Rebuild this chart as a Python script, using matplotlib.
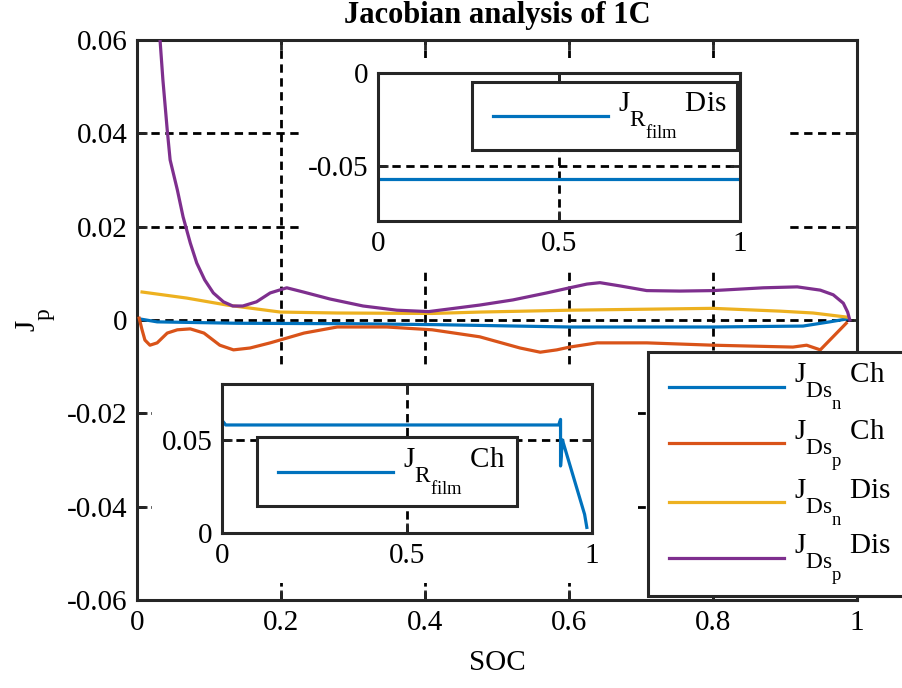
import matplotlib
matplotlib.use('Agg')
import matplotlib.pyplot as plt
import matplotlib._mathtext as mathtext_internal
from matplotlib.patches import Rectangle
from matplotlib.lines import Line2D
from matplotlib.legend_handler import HandlerLine2D

plt.rcParams['font.family'] = 'Liberation Serif'
plt.rcParams['mathtext.fontset'] = 'custom'
plt.rcParams['mathtext.rm'] = 'Liberation Serif'
plt.rcParams['mathtext.it'] = 'Liberation Serif'
plt.rcParams['mathtext.bf'] = 'Liberation Serif:bold'
# MATLAB-like tex subscripts: larger and lower than mathtext default
mathtext_internal.SHRINK_FACTOR = 0.8
mathtext_internal.FontConstantsBase.sub1 = 1.1

# main curves (SOC, Jacobian)
soc_ch_n = [0.005, 0.028, 0.139, 0.3, 0.417, 0.601, 0.8, 0.925, 0.962, 0.985]
jac_ch_n = [0.0002, -0.0004, -0.0007, -0.0008, -0.001, -0.0015, -0.0015, -0.0013, -0.0004, 0.0002]

soc_ch_p = [0.003, 0.007, 0.011, 0.018, 0.028, 0.042, 0.056, 0.074, 0.093, 0.115, 0.134, 0.157,
            0.185, 0.232, 0.278, 0.347, 0.41, 0.476, 0.532, 0.56, 0.583, 0.601, 0.639, 0.708,
            0.8, 0.911, 0.93, 0.949, 0.985]
jac_ch_p = [0.0004, -0.0021, -0.0043, -0.0054, -0.0049, -0.0028, -0.0021, -0.0019, -0.0028,
            -0.0054, -0.0064, -0.0060, -0.0049, -0.0028, -0.0015, -0.0015, -0.0021, -0.0036,
            -0.0060, -0.0069, -0.0064, -0.0058, -0.0049, -0.0049, -0.0054, -0.0058, -0.0054,
            -0.0064, -0.0007]

soc_dis_n = [0.007, 0.069, 0.125, 0.199, 0.278, 0.41, 0.476, 0.601, 0.8, 0.893, 0.939, 0.987]
jac_dis_n = [0.0060, 0.0047, 0.0032, 0.0017, 0.0015, 0.0014, 0.0017, 0.0021, 0.0025, 0.0019,
             0.0015, 0.0006]

soc_dis_p = [0.032, 0.036, 0.042, 0.046, 0.056, 0.064, 0.074, 0.083, 0.094, 0.106, 0.12, 0.133,
             0.147, 0.166, 0.185, 0.208, 0.231, 0.268, 0.314, 0.361, 0.405, 0.476, 0.522, 0.569,
             0.601, 0.625, 0.643, 0.671, 0.708, 0.754, 0.8, 0.87, 0.917, 0.949, 0.967, 0.981,
             0.987, 0.99]
jac_dis_p = [0.0600, 0.0514, 0.0407, 0.0343, 0.0279, 0.0221, 0.0165, 0.0122, 0.0086, 0.0058,
             0.0039, 0.0030, 0.0030, 0.0039, 0.0058, 0.0069, 0.0060, 0.0045, 0.0030, 0.0021,
             0.0018, 0.0032, 0.0043, 0.0058, 0.0069, 0.0077, 0.0080, 0.0073, 0.0063, 0.0062,
             0.0063, 0.0069, 0.0071, 0.0064, 0.0054, 0.0036, 0.0017, 0.0]

# insets: J_Rfilm
soc_rf_dis = [0.0, 0.5, 1.0]
jac_rf_dis = [-0.0575, -0.0575, -0.0575]

soc_rf_ch = [0.0, 0.01, 0.5, 0.91, 0.915, 0.915, 0.92, 0.95, 0.98, 0.986]
jac_rf_ch = [0.0605, 0.058, 0.058, 0.058, 0.061, 0.036, 0.05, 0.03, 0.01, 0.003]

labels = [r'$\mathrm{J_{Ds_{n}}}$ Ch', r'$\mathrm{J_{Ds_{p}}}$ Ch',
          r'$\mathrm{J_{Ds_{n}}}$ Dis', r'$\mathrm{J_{Ds_{p}}}$ Dis']
colors = ['#0072BD', '#D95319', '#EDB120', '#7E2F8E']

W, H = 903, 688
fs = 21
dark = '#262626'


class LowLineHandler(HandlerLine2D):
    # put the legend line at the baseline of the "J", like MATLAB does
    def create_artists(self, legend, orig_handle, xdescent, ydescent, width, height,
                       fontsize, trans):
        return super().create_artists(legend, orig_handle, xdescent,
                                      ydescent + 1.0 * fontsize, width, height,
                                      fontsize, trans)


def style_axes(ax):
    for s in ax.spines.values():
        s.set_linewidth(2.2)
        s.set_color(dark)
    ax.tick_params(direction='in', length=7, width=2, colors=dark, labelcolor='black',
                   labelsize=fs, top=True, right=True, pad=7)
    ax.grid(True, color='black', linestyle=(0, (3, 2)), linewidth=2)


def fig_rect(x0, y0, x1, y1):
    # pixel box (top-left origin) -> figure fraction
    return [x0 / W, 1 - y1 / H, (x1 - x0) / W, (y1 - y0) / H]


def box_legend(ax, hs, labs, x0, y0, width, spacing=0.3):
    leg = ax.legend(hs, labs, loc='upper left', mode='expand',
                    bbox_to_anchor=(x0 / W, 0.0, width / W, 1 - y0 / H),
                    bbox_transform=fig.transFigure, borderaxespad=0, fontsize=fs,
                    handlelength=4.36, handletextpad=0.35, labelspacing=spacing,
                    borderpad=0.3, fancybox=False, framealpha=1,
                    handler_map={Line2D: LowLineHandler(xpad=0.42)})
    leg.get_frame().set_edgecolor(dark)
    leg.get_frame().set_linewidth(2.2)
    return leg


fig = plt.figure(figsize=(W / 100, H / 100), dpi=100)
ax = fig.add_axes(fig_rect(137, 40, 857, 600))
style_axes(ax)

handles = []
for s, j, c in zip([soc_ch_n, soc_ch_p, soc_dis_n, soc_dis_p],
                   [jac_ch_n, jac_ch_p, jac_dis_n, jac_dis_p], colors):
    h, = ax.plot(s, j, color=c, linewidth=2.3, zorder=3)
    handles.append(h)

ax.set_xlim(0, 1)
ax.set_ylim(-0.06, 0.06)
ax.set_xticks([0, 0.2, 0.4, 0.6, 0.8, 1])
ax.set_xticklabels(['0', '0.2', '0.4', '0.6', '0.8', '1'])
ax.set_yticks([-0.06, -0.04, -0.02, 0, 0.02, 0.04, 0.06])
ax.set_yticklabels(['-0.06', '-0.04', '-0.02', '0', '0.02', '0.04', '0.06'])
ax.set_xlabel('SOC', fontsize=fs, labelpad=10)
ax.set_ylabel(r'$\mathrm{J_p}$', fontsize=fs, labelpad=6)
ax.set_title('Jacobian analysis of 1C', fontsize=22, fontweight='bold', pad=12)

# white areas behind the insets hide the main grid
for (x0, x1, y0, y1) in [(0.226, 0.900, 0.0111, 0.0561), (0.021, 0.696, -0.0564, -0.0096)]:
    ax.add_patch(Rectangle((x0, y0), x1 - x0, y1 - y0, facecolor='white',
                           edgecolor='none', zorder=1.8))

box_legend(ax, handles, labels, 648, 352, 340, spacing=0.15)

# top inset: J_Rfilm Dis
ax1 = fig.add_axes(fig_rect(378, 73, 740, 221))
style_axes(ax1)
h1, = ax1.plot(soc_rf_dis, jac_rf_dis, color=colors[0], linewidth=2.3)
ax1.set_xlim(0, 1)
ax1.set_ylim(-0.08, 0)
ax1.set_xticks([0, 0.5, 1])
ax1.set_xticklabels(['0', '0.5', '1'])
ax1.set_yticks([-0.05, 0])
ax1.set_yticklabels(['-0.05', '0'])
box_legend(ax1, [h1], [r'$\mathrm{J_{R_{film}}}$ Dis'], 472, 82, 265)

# bottom inset: J_Rfilm Ch
ax2 = fig.add_axes(fig_rect(222, 384, 592, 533))
style_axes(ax2)
h2, = ax2.plot(soc_rf_ch, jac_rf_ch, color=colors[0], linewidth=2.3)
ax2.set_xlim(0, 1)
ax2.set_ylim(0, 0.08)
ax2.set_xticks([0, 0.5, 1])
ax2.set_xticklabels(['0', '0.5', '1'])
ax2.set_yticks([0, 0.05])
ax2.set_yticklabels(['0', '0.05'])
box_legend(ax2, [h2], [r'$\mathrm{J_{R_{film}}}$ Ch'], 257, 437, 260)

fig.savefig('out.png', dpi=100)
